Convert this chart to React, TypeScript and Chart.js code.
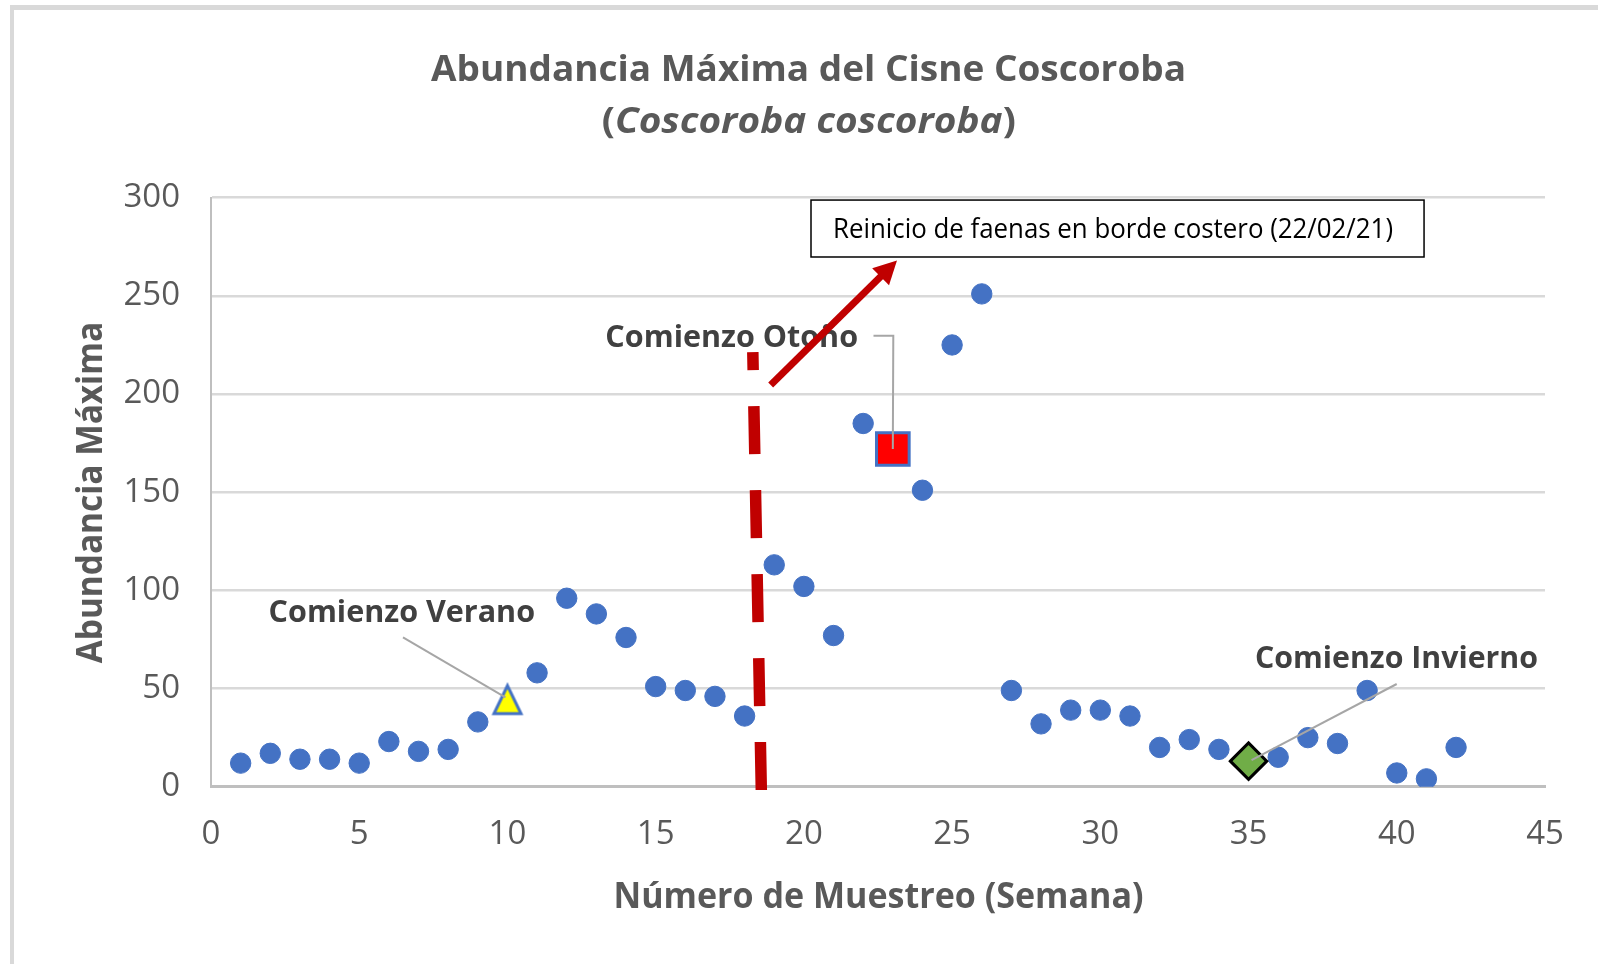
import React, { useEffect, useRef } from "react";
import { Chart, registerables } from "chart.js";

Chart.register(...registerables);

// ---------- data ----------
const semanas = [
  1, 2, 3, 4, 5, 6, 7, 8, 9, 10, 11, 12, 13, 14, 15, 16, 17, 18, 19, 20, 21,
  22, 23, 24, 25, 26, 27, 28, 29, 30, 31, 32, 33, 34, 35, 36, 37, 38, 39, 40, 41, 42,
];
const abundancia = [
  12, 17, 14, 14, 12, 23, 18, 19, 33, 45, 58, 96, 88, 76, 51, 49, 46, 36, 113, 102, 77,
  185, 172, 151, 225, 251, 49, 32, 39, 39, 36, 20, 24, 19, 13, 15, 25, 22, 49, 7, 4, 20,
];
const semanaVerano = 10;
const semanaOtono = 23;
const semanaInvierno = 35;

const xTicks = [0, 5, 10, 15, 20, 25, 30, 35, 40, 45];
const yTicks = [0, 50, 100, 150, 200, 250, 300];

const titulo1 = "Abundancia Máxima del Cisne Coscoroba";
const titulo2 = ["(", "Coscoroba coscoroba", ")"];
const tituloX = "Número de Muestreo (Semana)";
const tituloY = "Abundancia Máxima";
const notaVerano = "Comienzo Verano";
const notaOtono = "Comienzo Otoño";
const notaInvierno = "Comienzo Invierno";
const notaFaenas = "Reinicio de faenas en borde costero (22/02/21)";

// event line / arrow / box anchored in data units
const eventoLinea = { xTop: 18.277, yTop: 221.4, xBottom: 18.564, yBottom: -1.68 };
const eventoFlecha = { x1: 18.88, y1: 204.6, x2: 23.14, y2: 268.0 };
const eventoCaja = { x1: 20.24, x2: 40.92, yTop: 298.8, yBottom: 269.8 };

const FONT = '"Open Sans", "DejaVu Sans", sans-serif';

function valorDe(semana: number) {
  return abundancia[semanas.indexOf(semana)];
}

function makeTriangle() {
  const c = document.createElement("canvas");
  c.width = 38;
  c.height = 36;
  const g = c.getContext("2d")!;
  g.beginPath();
  g.moveTo(19, 5.3);
  g.lineTo(32.5, 33.3);
  g.lineTo(5.5, 33.3);
  g.closePath();
  g.fillStyle = "#ffff00";
  g.fill();
  g.lineWidth = 3;
  g.lineJoin = "miter";
  g.strokeStyle = "#4472c4";
  g.stroke();
  return c;
}

type Part = { text: string; font: string };

function drawFitted(
  ctx: CanvasRenderingContext2D,
  parts: Part[],
  x: number,
  baseline: number,
  width: number,
  color: string,
  align: "center" | "left" = "center"
) {
  ctx.save();
  let total = 0;
  const widths = parts.map((p) => {
    ctx.font = p.font;
    const w = ctx.measureText(p.text).width;
    total += w;
    return w;
  });
  const s = width / total;
  const startX = align === "center" ? x - width / 2 : x;
  ctx.translate(startX, baseline);
  ctx.scale(s, 1);
  ctx.fillStyle = color;
  ctx.textAlign = "left";
  ctx.textBaseline = "alphabetic";
  let cx = 0;
  parts.forEach((p, i) => {
    ctx.font = p.font;
    ctx.fillText(p.text, cx, 0);
    cx += widths[i];
  });
  ctx.restore();
}

const overlayPlugin = {
  id: "overlay",
  beforeDraw(chart: any) {
    const { ctx, width, height } = chart;
    ctx.save();
    ctx.fillStyle = "#ffffff";
    ctx.fillRect(0, 0, width, height);
    ctx.fillStyle = "#d9d9d9";
    ctx.fillRect(10, 5, width - 10, 5);
    ctx.fillRect(10, 5, 4, height - 5);
    ctx.restore();
  },
  afterDatasetsDraw(chart: any) {
    const { ctx } = chart;
    const xs = chart.scales.x;
    const ys = chart.scales.y;
    const px = (v: number) => xs.getPixelForValue(v);
    const py = (v: number) => ys.getPixelForValue(v);

    // Title
    drawFitted(ctx, [{ text: titulo1, font: `bold 36px ${FONT}` }], 808.5, 80.7, 755, "#595959");
    drawFitted(
      ctx,
      [
        { text: titulo2[0], font: `bold 36px ${FONT}` },
        { text: titulo2[1], font: `italic bold 36px ${FONT}` },
        { text: titulo2[2], font: `bold 36px ${FONT}` },
      ],
      808.8,
      132.7,
      414,
      "#595959"
    );

    // Axis titles
    drawFitted(ctx, [{ text: tituloX, font: `bold 35px ${FONT}` }], 878.5, 907.5, 530, "#595959");
    ctx.save();
    ctx.translate(101.7, 492.5);
    ctx.rotate(-Math.PI / 2);
    drawFitted(ctx, [{ text: tituloY, font: `bold 35px ${FONT}` }], 0, 0, 341.5, "#595959");
    ctx.restore();

    // Leader lines
    ctx.save();
    ctx.strokeStyle = "#a6a6a6";
    ctx.lineWidth = 2;
    ctx.beginPath();
    ctx.moveTo(403, 637.3);
    ctx.lineTo(px(semanaVerano) - 2, py(valorDe(semanaVerano)) - 1);
    ctx.stroke();
    ctx.beginPath();
    ctx.moveTo(873.5, 335.7);
    ctx.lineTo(893.3, 335.7);
    ctx.lineTo(px(semanaOtono), py(valorDe(semanaOtono)));
    ctx.stroke();
    ctx.beginPath();
    ctx.moveTo(1396.7, 684);
    ctx.lineTo(px(semanaInvierno) + 3, py(valorDe(semanaInvierno)) - 1);
    ctx.stroke();
    ctx.restore();

    // Season labels
    const lab = `bold 31px ${FONT}`;
    drawFitted(ctx, [{ text: notaVerano, font: lab }], 401.8, 621.7, 266.5, "#404040");
    drawFitted(ctx, [{ text: notaOtono, font: lab }], 731.7, 346.5, 252.7, "#404040");
    drawFitted(ctx, [{ text: notaInvierno, font: lab }], 1396.5, 668.3, 283, "#404040");

    // Dashed red event line (drawn from the bottom up)
    ctx.save();
    ctx.strokeStyle = "#c00000";
    ctx.lineWidth = 11.5;
    ctx.lineCap = "butt";
    ctx.setLineDash([48, 36]);
    ctx.beginPath();
    ctx.moveTo(px(eventoLinea.xBottom), py(eventoLinea.yBottom));
    ctx.lineTo(px(eventoLinea.xTop), py(eventoLinea.yTop));
    ctx.stroke();
    ctx.restore();

    // Red arrow
    const x1 = px(eventoFlecha.x1), y1 = py(eventoFlecha.y1);
    const x2 = px(eventoFlecha.x2), y2 = py(eventoFlecha.y2);
    const ang = Math.atan2(y2 - y1, x2 - x1);
    const headLen = 23;
    const headW = 24;
    const bx = x2 - headLen * Math.cos(ang);
    const by = y2 - headLen * Math.sin(ang);
    ctx.save();
    ctx.strokeStyle = "#c00000";
    ctx.fillStyle = "#c00000";
    ctx.lineWidth = 7;
    ctx.beginPath();
    ctx.moveTo(x1, y1);
    ctx.lineTo(bx + 2 * Math.cos(ang), by + 2 * Math.sin(ang));
    ctx.stroke();
    ctx.beginPath();
    ctx.moveTo(x2, y2);
    ctx.lineTo(bx + (headW / 2) * Math.sin(ang), by - (headW / 2) * Math.cos(ang));
    ctx.lineTo(bx - (headW / 2) * Math.sin(ang), by + (headW / 2) * Math.cos(ang));
    ctx.closePath();
    ctx.fill();
    ctx.restore();

    // Event box
    const bx1 = px(eventoCaja.x1), bx2 = px(eventoCaja.x2);
    const byT = py(eventoCaja.yTop), byB = py(eventoCaja.yBottom);
    ctx.save();
    ctx.fillStyle = "#ffffff";
    ctx.fillRect(bx1, byT, bx2 - bx1, byB - byT);
    ctx.strokeStyle = "#000000";
    ctx.lineWidth = 1.5;
    ctx.strokeRect(bx1, byT, bx2 - bx1, byB - byT);
    ctx.restore();
    drawFitted(ctx, [{ text: notaFaenas, font: `26.5px ${FONT}` }], bx1 + 22, byB - 19, 560, "#000000", "left");
  },
};

export default function App() {
  const ref = useRef<HTMLCanvasElement>(null);

  useEffect(() => {
    const especiales = [semanaVerano, semanaOtono, semanaInvierno];
    const puntos = semanas
      .filter((s) => !especiales.includes(s))
      .map((s) => ({ x: s, y: valorDe(s) }));

    const chart = new Chart(ref.current!, {
      type: "scatter",
      data: {
        datasets: [
          {
            label: notaVerano,
            data: [{ x: semanaVerano, y: valorDe(semanaVerano) }],
            pointStyle: makeTriangle() as any,
            pointRadius: 16,
            backgroundColor: "#ffff00",
            borderColor: "#4472c4",
          },
          {
            label: notaOtono,
            data: [{ x: semanaOtono, y: valorDe(semanaOtono) }],
            pointStyle: "rect",
            pointRadius: 23.1,
            backgroundColor: "#ff0000",
            borderColor: "#4472c4",
            borderWidth: 3,
          },
          {
            label: notaInvierno,
            data: [{ x: semanaInvierno, y: valorDe(semanaInvierno) }],
            pointStyle: "rectRot",
            pointRadius: 18.2,
            backgroundColor: "#70ad47",
            borderColor: "#000000",
            borderWidth: 3,
          },
          {
            label: tituloY,
            data: puntos,
            pointStyle: "circle",
            pointRadius: 10.2,
            backgroundColor: "#4472c4",
            borderColor: "#4472c4",
            borderWidth: 1,
          },
        ],
      },
      options: {
        responsive: false,
        devicePixelRatio: 1,
        animation: false,
        events: [],
        layout: { padding: { left: 0, right: 53, top: 197.7, bottom: 0 } },
        plugins: {
          legend: { display: false },
          title: { display: false },
          tooltip: { enabled: false },
        },
        scales: {
          x: {
            type: "linear",
            position: "bottom",
            min: 0,
            max: 45,
            afterBuildTicks: (s: any) => {
              s.ticks = xTicks.map((v) => ({ value: v }));
            },
            afterFit: (s: any) => {
              s.height = 964 - 786.7;
            },
            grid: { display: false, drawTicks: false },
            border: { display: true, color: "#bfbfbf", width: 3 },
            ticks: {
              padding: 28,
              color: "#595959",
              font: { family: FONT, size: 33 },
              maxRotation: 0,
              autoSkip: false,
            },
          },
          y: {
            type: "linear",
            min: 0,
            max: 300,
            afterBuildTicks: (s: any) => {
              s.ticks = yTicks.map((v) => ({ value: v }));
            },
            afterFit: (s: any) => {
              s.width = 211;
            },
            grid: { display: true, color: "#d9d9d9", lineWidth: 2.5, drawTicks: false },
            border: { display: true, color: "#bfbfbf", width: 2 },
            ticks: {
              padding: 31,
              color: "#595959",
              font: { family: FONT, size: 33 },
              autoSkip: false,
            },
          },
        },
      },
      plugins: [overlayPlugin],
    });
    return () => chart.destroy();
  }, []);

  return (
    <div style={{ position: "absolute", left: 0, top: 0, width: 1598, height: 964, background: "#fff" }}>
      <canvas ref={ref} width={1598} height={964} style={{ display: "block", width: 1598, height: 964 }} />
    </div>
  );
}
